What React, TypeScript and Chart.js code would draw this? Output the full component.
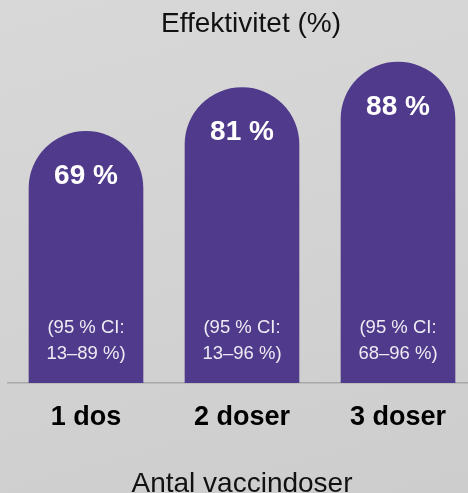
import React, { useEffect, useRef } from "react";
import { Chart, registerables } from "chart.js";

Chart.register(...registerables);

const categories = ["1 dos", "2 doser", "3 doser"];
const effectiveness = [69, 81, 88];
const valueLabels = ["69 %", "81 %", "88 %"];
const ciLine1 = ["(95 % CI:", "(95 % CI:", "(95 % CI:"];
const ciLine2 = ["13–89 %)", "13–96 %)", "68–96 %)"];
const chartTitle = "Effektivitet (%)";
const xTitle = "Antal vaccindoser";

const FONT = "'Liberation Sans', Arial, Helvetica, sans-serif";
const PURPLE = "#503a8b";

const labelPlugin = {
  id: "barLabels",
  afterDatasetsDraw(chart: any) {
    const ctx = chart.ctx;
    const meta = chart.getDatasetMeta(0);
    ctx.save();
    ctx.textAlign = "center";
    ctx.textBaseline = "middle";
    meta.data.forEach((bar: any, i: number) => {
      const base = bar.base;
      ctx.fillStyle = "#ffffff";
      ctx.font = `bold 28px ${FONT}`;
      ctx.fillText(valueLabels[i], bar.x, bar.y + 45);
      ctx.fillStyle = "rgba(255,255,255,0.9)";
      ctx.font = `18.5px ${FONT}`;
      ctx.fillText(ciLine1[i], bar.x, base - 55);
      ctx.fillText(ciLine2[i], bar.x, base - 29);
    });
    const t = chart.titleBlock;
    ctx.fillStyle = "#111111";
    ctx.font = `28px ${FONT}`;
    const cx = (chart.chartArea.left + chart.chartArea.right) / 2 + 9;
    ctx.fillText(chartTitle, cx, t.top + t.height / 2);
    ctx.restore();
  },
};

export default function App() {
  const ref = useRef<HTMLCanvasElement | null>(null);

  useEffect(() => {
    if (!ref.current) return;
    const chart = new Chart(ref.current, {
      type: "bar",
      data: {
        labels: categories,
        datasets: [
          {
            data: effectiveness,
            backgroundColor: PURPLE,
            borderWidth: 0,
            borderSkipped: "bottom",
            borderRadius: { topLeft: 57, topRight: 57, bottomLeft: 0, bottomRight: 0 },
            barThickness: 114,
          },
        ],
      },
      options: {
        responsive: false,
        animation: false,
        layout: { padding: { left: 8, right: 14, top: 0, bottom: 5 } },
        plugins: {
          legend: { display: false },
          tooltip: { enabled: false },
          title: {
            display: true,
            text: chartTitle,
            color: "rgba(0,0,0,0)",
            font: { family: FONT, size: 28, weight: "normal", lineHeight: 1.2 },
            padding: { top: 5, bottom: 9 },
          },
        },
        scales: {
          y: {
            display: false,
            min: 0,
            max: 92,
          },
          x: {
            grid: { display: false, drawTicks: false },
            border: { display: true, color: "#a8a8a8", width: 1.5 },
            ticks: {
              color: "#000000",
              padding: 18,
              font: { family: FONT, size: 27, weight: "bold", lineHeight: 1.2 },
            },
            title: {
              display: true,
              text: xTitle,
              color: "#111111",
              font: { family: FONT, size: 28, weight: "normal", lineHeight: 1.2 },
              padding: { top: 16, bottom: 4 },
            },
          },
        },
      },
      plugins: [labelPlugin],
    });
    return () => chart.destroy();
  }, []);

  return (
    <div
      style={{
        position: "absolute",
        left: 0,
        top: 0,
        width: 468,
        height: 493,
        overflow: "hidden",
        background: "linear-gradient(165deg, #d8d8d8 0%, #d3d3d3 50%, #cdcdcd 100%)",
      }}
    >
      <canvas ref={ref} width={490} height={510} style={{ display: "block", width: 490, height: 510 }} />
    </div>
  );
}
